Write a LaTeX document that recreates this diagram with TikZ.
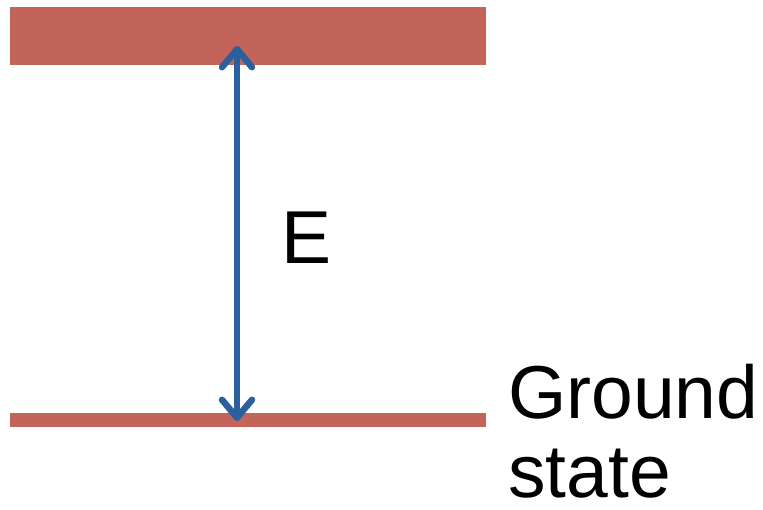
\documentclass[tikz,border=0pt]{standalone}
\usepackage{fontspec}
\setmainfont{Liberation Sans}
\usetikzlibrary{arrows.meta}
\definecolor{barred}{HTML}{C3645B}
\definecolor{arrowblue}{HTML}{2A609E}
\begin{document}
\begin{tikzpicture}[x=1pt,y=-1pt,
  bar/.style={fill=barred, draw=none},
  label/.style={inner sep=0pt, font=\fontsize{75}{80}\selectfont, text=black},
  levelarrow/.style={draw=arrowblue, line width=6.5pt, line cap=round,
    {Straight Barb[length=18pt,width=30pt,round]}-{Straight Barb[length=18pt,width=30pt,round]}}]
\useasboundingbox (0,0) rectangle (763,509);
\path[bar] (10,7) rectangle (486,65);
\path[bar] (10,413) rectangle (486,427);
\coordinate (upper) at (237,46);
\coordinate (lower) at (237,421);
\draw[levelarrow] (upper) -- (lower);
\node[label, anchor=base west] (e) at (281,263) {E};
\node[label, anchor=base west] (ground) at (508,418) {Ground};
\node[label, anchor=base west] (state) at (508,497) {state};
\end{tikzpicture}
\end{document}
